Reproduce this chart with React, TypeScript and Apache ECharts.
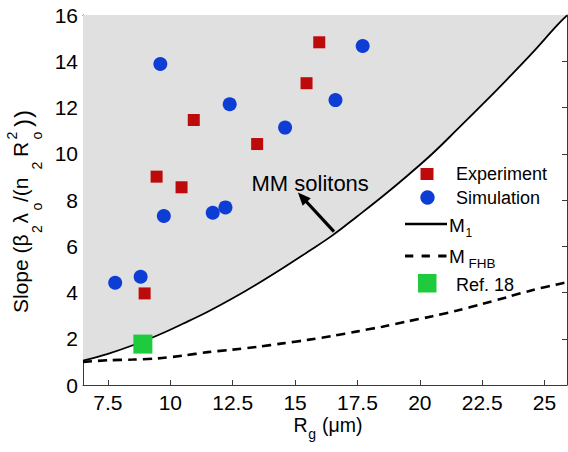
import React, { useEffect, useRef } from 'react';
import * as echarts from 'echarts';

const FONT = '"Liberation Sans", Arial, Helvetica, sans-serif';

// Axis ranges and ticks
const xMin = 6.5;
const xMax = 25.9;
const xTickValues = [7.5, 10, 12.5, 15, 17.5, 20, 22.5, 25];
const yMin = 0;
const yMax = 16;
const yStep = 2;

// Experiment (red squares)
const experimentX = [8.97, 9.45, 10.45, 10.94, 13.48, 15.46, 15.97];
const experimentY = [3.96, 9.01, 8.55, 11.46, 10.42, 13.05, 14.82];

// Simulation (blue circles)
const simulationX = [7.79, 8.81, 9.6, 9.74, 11.7, 12.21, 12.38, 14.6, 16.62, 17.71];
const simulationY = [4.42, 4.68, 13.88, 7.31, 7.45, 7.68, 12.14, 11.13, 12.32, 14.66];

// Ref. 18 (green square)
const ref18X = [8.9];
const ref18Y = [1.77];

// M1 boundary (solid)
const m1X = [6.5, 7.5, 8.5, 9.5, 10.5, 11.5, 12.5, 13.5, 14.5, 15.5, 16.5, 17.5, 18.5, 19.5, 20.5, 21.5, 22.5, 23.5, 24.5, 25.5, 25.9];
const m1Y = [1.05, 1.35, 1.72, 2.15, 2.65, 3.17, 3.75, 4.38, 5.05, 5.75, 6.47, 7.3, 8.15, 9.05, 10.0, 11.05, 12.12, 13.22, 14.35, 15.55, 15.98];

// M_FHB boundary (dashed)
const mfhbX = [6.5, 7.5, 8.5, 9.5, 10.5, 11.5, 12.5, 13.5, 14.5, 15.5, 16.5, 17.5, 18.5, 19.5, 20.5, 21.5, 22.5, 23.5, 24.5, 25.5, 25.9];
const mfhbY = [1.0, 1.07, 1.1, 1.15, 1.27, 1.42, 1.53, 1.65, 1.8, 1.95, 2.12, 2.32, 2.52, 2.75, 2.97, 3.22, 3.5, 3.8, 4.1, 4.35, 4.45];

// Arrow annotation (data coordinates)
const arrowFrom = [16.56, 6.63];
const arrowTo = [15.29, 8.12];

const RED = '#bd0a0a';
const BLUE = '#0d3dd4';
const GREEN = '#1ecb3c';
const SHADE = '#e0e0e0';
const AXIS = '#3a3a3a';

const zip = (xs: number[], ys: number[]) => xs.map((x, i) => [x, ys[i]]);

const txt = (text: string, x: number, y: number, size: number, extra: any = {}) => ({
  type: 'text',
  x,
  y,
  style: {
    text,
    fontFamily: FONT,
    fontSize: size,
    lineHeight: Math.round(size * 0.8),
    fill: '#000',
    align: 'left',
    verticalAlign: 'middle',
    ...extra,
  },
});

export default function App() {
  const ref = useRef<HTMLDivElement>(null);

  useEffect(() => {
    const el = ref.current as HTMLDivElement;
    const chart = echarts.init(el, null, { renderer: 'svg' });
    const ctx = document.createElement('canvas').getContext('2d') as CanvasRenderingContext2D;
    const measure = (t: string, size: number) => {
      ctx.font = `${size}px "Liberation Sans"`;
      return ctx.measureText(t).width;
    };

    // Y axis title pieces: [text, offset along reading direction, kind]
    const yTitle: [string, number, string][] = [
      ['Slope (β', 0, 'm'],
      ['2', 80, 'b'],
      ['λ', 89.5, 'm'],
      ['o', 102.5, 'b'],
      ['/(n', 111, 'm'],
      ['2', 143.5, 'b'],
      ['R', 156, 'm'],
      ['o', 173.5, 'b'],
      ['2', 173.5, 'p'],
      [')', 186, 'P'],
      [')', 195, 'P'],
    ];
    const yChildren = yTitle.map(([t, off, k]) => {
      if (k === 'm') return txt(t, off, 0, 21);
      if (k === 'b') return txt(t, off, 16, 14);
      if (k === 'p') return txt(t, off, -9, 14);
      return txt(t, off, 1.5, 24);
    });

    // X axis title, centred under the plot
    const XS = 19.5;
    const xr = measure('R', XS);
    const xg = measure('g', 14);
    const xu = measure(' (μm)', XS);
    const xTitleW = xr + xg + 1 + xu;
    const xStart = 328 - xTitleW / 2;
    const xTitleY = 424.5;

    const option: any = {
      animation: false,
      backgroundColor: '#ffffff',
      grid: { left: 83, top: 15, width: 484, height: 370, containLabel: false, outerBoundsMode: 'none' },
      xAxis: [
        {
          type: 'value',
          position: 'bottom',
          min: xMin,
          max: xMax,
          axisLine: { show: true, onZero: false, lineStyle: { color: AXIS, width: 1 } },
          axisTick: { show: true, inside: true, length: 5, customValues: xTickValues, lineStyle: { color: AXIS } },
          axisLabel: {
            show: true,
            customValues: xTickValues,
            formatter: (v: number) => String(v),
            color: '#000',
            fontFamily: FONT,
            fontSize: 21,
            lineHeight: 17,
            margin: 8.5,
          },
          splitLine: { show: false },
        },
        {
          type: 'value',
          position: 'top',
          min: xMin,
          max: xMax,
          axisLine: { show: true, onZero: false, lineStyle: { color: AXIS, width: 1 } },
          axisTick: { show: true, inside: true, length: 5, customValues: xTickValues, lineStyle: { color: AXIS } },
          axisLabel: { show: false },
          splitLine: { show: false },
        },
      ],
      yAxis: [
        {
          type: 'value',
          position: 'left',
          min: yMin,
          max: yMax,
          interval: yStep,
          axisLine: { show: true, onZero: false, lineStyle: { color: AXIS, width: 1 } },
          axisTick: { show: true, inside: true, length: 5, lineStyle: { color: AXIS } },
          axisLabel: { show: true, color: '#000', fontFamily: FONT, fontSize: 21, margin: 5 },
          splitLine: { show: false },
        },
        {
          type: 'value',
          position: 'right',
          min: yMin,
          max: yMax,
          interval: yStep,
          axisLine: { show: true, onZero: false, lineStyle: { color: AXIS, width: 1 } },
          axisTick: { show: true, inside: true, length: 5, lineStyle: { color: AXIS } },
          axisLabel: { show: false },
          splitLine: { show: false },
        },
      ],
      series: [
        {
          name: 'M1',
          type: 'line',
          data: zip(m1X, m1Y),
          smooth: 0.4,
          symbol: 'none',
          lineStyle: { color: '#000', width: 1.8 },
          areaStyle: { origin: 'end', color: SHADE, opacity: 1 },
          z: 2,
          markLine: {
            silent: true,
            symbol: ['none', 'triangle'],
            symbolSize: [11, 13],
            label: { show: false },
            lineStyle: { color: '#000', width: 3.2, type: 'solid' },
            data: [[{ coord: arrowFrom }, { coord: arrowTo }]],
          },
        },
        {
          name: 'MFHB',
          type: 'line',
          data: zip(mfhbX, mfhbY),
          smooth: 0.3,
          symbol: 'none',
          lineStyle: { color: '#000', width: 2.6, type: [9, 6] },
          z: 3,
        },
        {
          name: 'Experiment',
          type: 'scatter',
          data: zip(experimentX, experimentY),
          symbol: 'rect',
          symbolSize: 12,
          itemStyle: { color: RED, opacity: 1 },
          z: 4,
        },
        {
          name: 'Simulation',
          type: 'scatter',
          data: zip(simulationX, simulationY),
          symbol: 'circle',
          symbolSize: 14,
          itemStyle: { color: BLUE, opacity: 1 },
          z: 4,
        },
        {
          name: 'Ref. 18',
          type: 'scatter',
          data: zip(ref18X, ref18Y),
          symbol: 'rect',
          symbolSize: 19,
          itemStyle: { color: GREEN, opacity: 1 },
          z: 5,
        },
      ],
      graphic: [
        // annotation
        { ...txt('MM solitons', 251.5, 183, 22), z: 10 },
        // y axis title
        { type: 'group', x: 20.5, y: 313, rotation: Math.PI / 2, children: yChildren },
        // x axis title
        {
          type: 'group',
          children: [
            txt('R', xStart, xTitleY, XS),
            txt('g', xStart + xr + 0.5, xTitleY + 9, 14),
            txt(' (μm)', xStart + xr + xg + 1, xTitleY, XS),
          ],
        },
        // legend
        {
          type: 'group',
          z: 10,
          children: [
            { type: 'rect', shape: { x: 420.5, y: 168, width: 13, height: 12 }, style: { fill: RED } },
            txt('Experiment', 456, 174, 18),
            { type: 'circle', shape: { cx: 427.5, cy: 197.5, r: 7.2 }, style: { fill: BLUE } },
            txt('Simulation', 456, 197.5, 18),
            { type: 'line', shape: { x1: 405, y1: 224, x2: 447, y2: 224 }, style: { stroke: '#000', lineWidth: 2.5 } },
            txt('M', 449, 225, 19),
            txt('1', 465.5, 232.5, 12),
            { type: 'line', shape: { x1: 405, y1: 256, x2: 447, y2: 256 }, style: { stroke: '#000', lineWidth: 3, lineDash: [8.3, 8.3] } },
            txt('M', 449, 256.7, 19),
            txt('FHB', 468.5, 263.5, 13.5),
            { type: 'rect', shape: { x: 418, y: 274, width: 18.5, height: 18.5 }, style: { fill: GREEN } },
            txt('Ref. 18', 456, 285, 18),
          ],
        },
      ],
    };

    chart.setOption(option);
    return () => chart.dispose();
  }, []);

  return (
    <div
      ref={ref}
      style={{ position: 'fixed', left: 0, top: 0, width: 568, height: 452, background: '#ffffff' }}
    />
  );
}
